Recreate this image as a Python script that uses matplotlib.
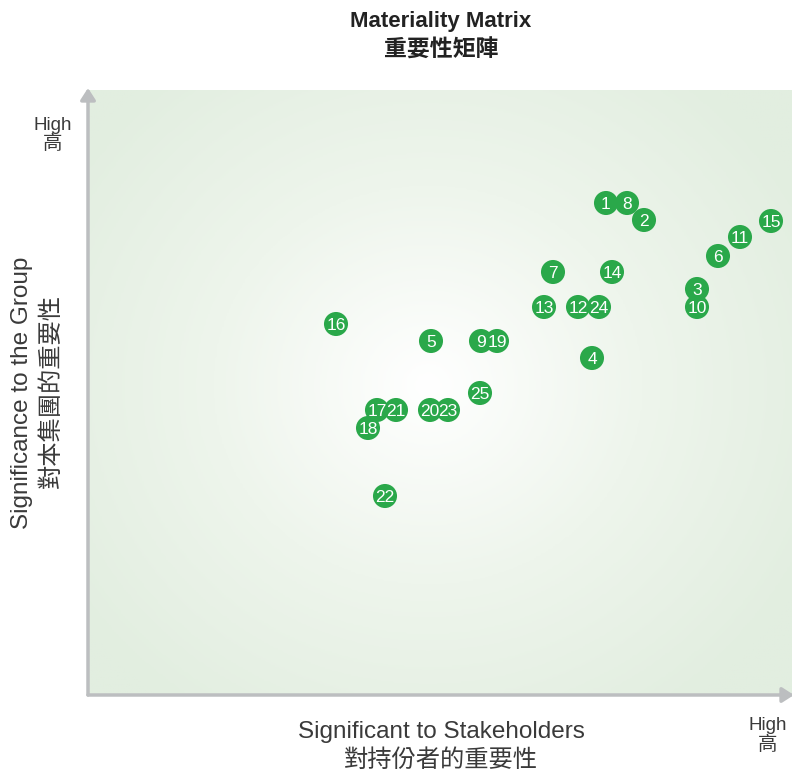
import matplotlib
matplotlib.use('Agg')
import matplotlib.pyplot as plt
import numpy as np
from matplotlib.colors import LinearSegmentedColormap

plt.rcParams['font.family'] = ['Liberation Sans', 'Noto Sans CJK TC', 'DejaVu Sans']

### Data (position on each axis, 0 = low)
labels = ['1', '8', '2', '15', '11', '6', '7', '14', '3', '10', '13', '12', '24',
          '16', '5', '9', '19', '4', '25', '17', '21', '20', '23', '18', '22']
stakeholders = [518, 539, 556, 683, 652, 630, 465, 524, 609, 609, 456, 490, 511,
                248, 343, 393, 409, 504, 392, 289, 308, 342, 360, 280, 297]
group = [492, 492, 475, 474, 458, 439, 423, 423, 406, 388, 388, 388, 388,
         371, 354, 354, 354, 337, 302, 285, 285, 285, 285, 267, 199]

title_en = 'Materiality Matrix'
title_zh = '重要性矩陣'
xlabel_en = 'Significant to Stakeholders'
xlabel_zh = '對持份者的重要性'
ylabel_en = 'Significance to the Group'
ylabel_zh = '對本集團的重要性'
high_en = 'High'
high_zh = '高'

### Figure
fig = plt.figure(figsize=(7.92, 7.77), dpi=100)
ax = fig.add_axes([88 / 792, 82 / 777, 704 / 792, 605 / 777])
ax.set_xlim(0, 704)
ax.set_ylim(0, 605)

# radial background, white in the middle, pale green at the edges
gx, gy = np.meshgrid(np.linspace(0, 704, 300), np.linspace(0, 605, 260))
r = np.sqrt(((gx - 340) / 430) ** 2 + ((gy - 310) / 400) ** 2)
r = np.clip(r, 0, 1)
cmap = LinearSegmentedColormap.from_list('bg', ['#ffffff', '#eef5ec', '#e2eee0'])
ax.imshow(r, extent=[0, 704, 0, 605], origin='lower', cmap=cmap, vmin=0, vmax=1,
          aspect='auto', zorder=0)

for s in ax.spines.values():
    s.set_visible(False)
ax.set_xticks([])
ax.set_yticks([])

# axis arrows
arrow_col = '#bcbec0'
ax.annotate('', xy=(0, 607), xytext=(0, 0), xycoords='data', annotation_clip=False,
            arrowprops=dict(arrowstyle='-|>,head_length=0.7,head_width=0.45',
                            color=arrow_col, lw=2.5, shrinkA=0, shrinkB=0))
ax.annotate('', xy=(706, 0), xytext=(0, 0), xycoords='data', annotation_clip=False,
            arrowprops=dict(arrowstyle='-|>,head_length=0.7,head_width=0.45',
                            color=arrow_col, lw=2.5, shrinkA=0, shrinkB=0))

# points
ax.scatter(stakeholders, group, s=300, color='#2aa84a', edgecolors='none', zorder=3,
           clip_on=False)
for lab, x, y in zip(labels, stakeholders, group):
    ax.text(x, y, lab, color='white', fontsize=12.5, ha='center', va='center_baseline',
            zorder=4)

### Text
txt = '#3a3a3a'
fig.text(441 / 792, 1 - 21 / 777, title_en, ha='center', va='center', fontsize=16,
         fontweight='bold', color='#222222')
fig.text(441 / 792, 1 - 50 / 777, title_zh, ha='center', va='center', fontsize=16.5,
         fontweight='bold', color='#222222')
fig.text(441 / 792, 1 - 732 / 777, xlabel_en, ha='center', va='center', fontsize=17.5,
         color=txt)
fig.text(441 / 792, 1 - 761 / 777, xlabel_zh, ha='center', va='center', fontsize=17.5,
         color=txt)
fig.text(22 / 792, 1 - 393 / 777, ylabel_en, ha='center', va='center', fontsize=17.5,
         color=txt, rotation=90)
fig.text(52 / 792, 1 - 391 / 777, ylabel_zh, ha='center', va='center', fontsize=17.5,
         color=txt, rotation=90)
fig.text(53 / 792, 1 - 125 / 777, high_en, ha='center', va='center', fontsize=13.5,
         color=txt)
fig.text(53 / 792, 1 - 144 / 777, high_zh, ha='center', va='center', fontsize=14,
         color=txt)
fig.text(768 / 792, 1 - 725 / 777, high_en, ha='center', va='center', fontsize=13.5,
         color=txt)
fig.text(768 / 792, 1 - 745 / 777, high_zh, ha='center', va='center', fontsize=14,
         color=txt)

fig.savefig('out.png', dpi=100)
plt.close(fig)
